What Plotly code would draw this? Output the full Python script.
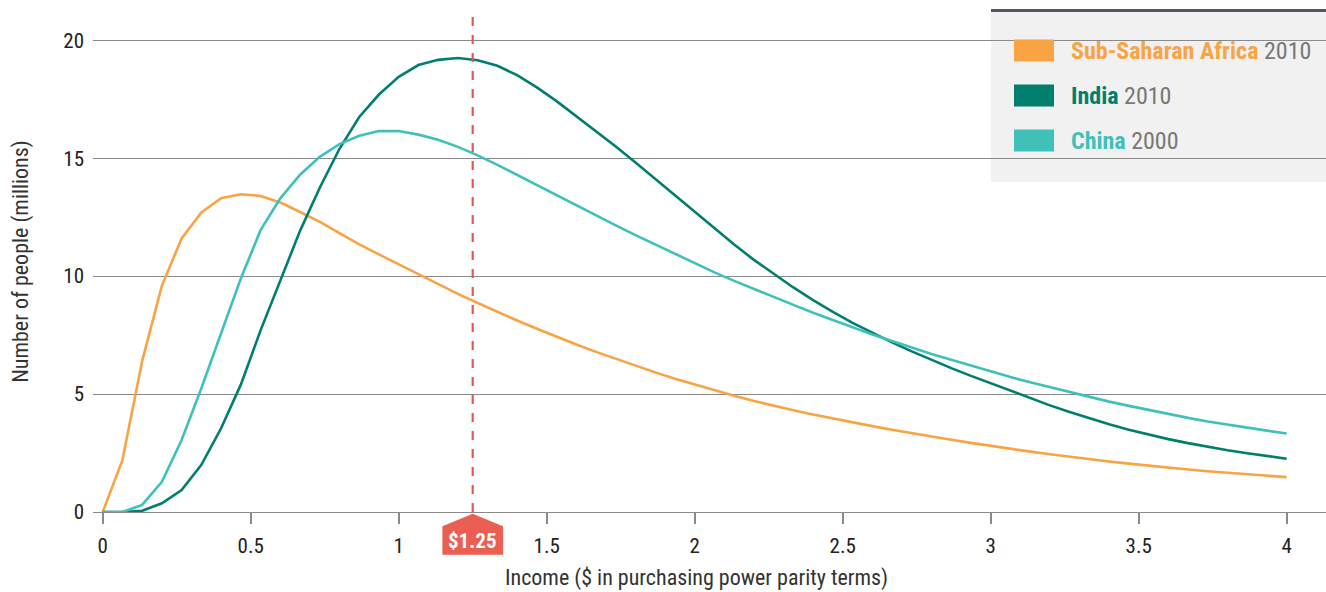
import plotly.graph_objects as go

# ---------------- data ----------------
income = [round(k / 15, 4) for k in range(61)]  # $ per day, PPP

ssa_2010 = [0, 2.2, 6.4, 9.6, 11.6, 12.7, 13.3, 13.47, 13.4, 13.12, 12.72, 12.3, 11.82, 11.35, 10.92,
            10.5, 10.07, 9.65, 9.25, 8.86, 8.48, 8.12, 7.77, 7.43, 7.1, 6.79, 6.49, 6.2, 5.92, 5.65,
            5.4, 5.16, 4.93, 4.71, 4.5, 4.31, 4.13, 3.96, 3.8, 3.64, 3.49, 3.34, 3.2, 3.06, 2.93,
            2.8, 2.68, 2.56, 2.45, 2.34, 2.24, 2.14, 2.05, 1.96, 1.88, 1.8, 1.73, 1.66, 1.6, 1.54, 1.48]

india_2010 = [0, 0, 0.05, 0.37, 0.93, 2.0, 3.55, 5.4, 7.7, 9.85, 11.92, 13.75, 15.4, 16.75, 17.7,
              18.45, 18.95, 19.17, 19.25, 19.15, 18.92, 18.52, 18.0, 17.42, 16.78, 16.16, 15.5, 14.82, 14.12, 13.42,
              12.72, 12.02, 11.34, 10.69, 10.09, 9.52, 8.98, 8.48, 8.02, 7.59, 7.19, 6.81, 6.45, 6.1, 5.77,
              5.45, 5.14, 4.84, 4.52, 4.24, 3.97, 3.72, 3.49, 3.28, 3.09, 2.92, 2.76, 2.62, 2.49, 2.37, 2.26]

china_2000 = [0, 0, 0.3, 1.28, 3.05, 5.25, 7.58, 9.9, 11.95, 13.3, 14.3, 15.06, 15.6, 15.95, 16.15,
              16.15, 16.0, 15.78, 15.48, 15.12, 14.72, 14.29, 13.85, 13.41, 12.98, 12.56, 12.15, 11.74, 11.34, 10.94,
              10.55, 10.16, 9.8, 9.45, 9.12, 8.78, 8.45, 8.14, 7.84, 7.53, 7.25, 6.97, 6.7, 6.46, 6.21,
              5.96, 5.72, 5.5, 5.29, 5.08, 4.88, 4.68, 4.5, 4.32, 4.15, 3.99, 3.84, 3.7, 3.57, 3.45, 3.33]

series_names = ["Sub-Saharan Africa", "India", "China"]
series_years = ["2010", "2010", "2000"]
series_colors = ["#F9A342", "#007E6E", "#3FC1BA"]

poverty_line = 1.25
poverty_label = "$1.25"

x_ticks = [0, 0.5, 1, 1.5, 2, 2.5, 3, 3.5, 4]
x_ticklabels = ["0", "0.5", "1", "1.5", "2", "2.5", "3", "3.5", "4"]
y_ticks = [0, 5, 10, 15, 20]

x_title = "Income ($ in purchasing power parity terms)"
y_title = "Number of people (millions)"

FONT = "Liberation Sans Narrow, Roboto Condensed, Arial Narrow, Roboto, sans-serif"
RED = "#E8574E"
GRID = "#8A8A8A"

# ---------------- geometry (layout only) ----------------
W, H = 1326, 592
PLOT_LEFT, PLOT_TOP, PLOT_BOTTOM = 93, 10, 512.3   # page pixels
L = PLOT_LEFT
T = PLOT_TOP
B = H - PLOT_BOTTOM
R = 0
plot_w = W - L - R
plot_h = H - T - B


def px(xp):
    return (xp - PLOT_LEFT) / plot_w


def py(yp):
    return (PLOT_BOTTOM - yp) / plot_h


fig = go.Figure()
for name, vals, col in zip(series_names, [ssa_2010, india_2010, china_2000], series_colors):
    fig.add_trace(go.Scatter(x=income, y=vals, mode="lines", name=name,
                             line=dict(color=col, width=2.6), showlegend=False,
                             hoverinfo="x+y+name"))

# poverty line
fig.add_shape(type="line", xref="x", yref="paper", x0=poverty_line, x1=poverty_line,
              y0=0, y1=1, line=dict(color=RED, width=2.2, dash="dash"), layer="above")

# $1.25 house-shaped marker below the axis
hw = 0.1024
yt, ys, yb = py(514), py(526.5), py(555)
fig.add_shape(type="path", xref="x", yref="paper",
              path=(f"M {poverty_line},{yt} L {poverty_line + hw},{ys} L {poverty_line + hw},{yb} "
                    f"L {poverty_line - hw},{yb} L {poverty_line - hw},{ys} Z"),
              fillcolor="#EA5F51", line=dict(width=0), layer="above")
fig.add_annotation(x=poverty_line, xref="x", y=py(541), yref="paper", text=f"<b>{poverty_label}</b>",
                   showarrow=False, font=dict(family=FONT, size=21, color="white"),
                   xanchor="center", yanchor="middle")

# legend box
fig.add_shape(type="rect", xref="paper", yref="paper", x0=px(991), x1=1.0, y0=py(182), y1=py(11),
              fillcolor="#F1F1F1", line=dict(width=0), layer="below")
fig.add_shape(type="line", xref="paper", yref="paper", x0=px(991), x1=1.0, y0=py(10.5), y1=py(10.5),
              line=dict(color="#505560", width=3))
for i, (name, yr, col) in enumerate(zip(series_names, series_years, series_colors)):
    cy = 50.5 + 45 * i
    fig.add_shape(type="rect", xref="paper", yref="paper", x0=px(1014), x1=px(1054),
                  y0=py(cy + 11), y1=py(cy - 11), fillcolor=col, line=dict(width=0))
    fig.add_annotation(xref="paper", yref="paper", x=px(1069), y=py(cy + 1), xanchor="left",
                       yanchor="middle", showarrow=False,
                       text=f"<b>{name}</b> <span style='color:#777777'>{yr}</span>",
                       font=dict(family=FONT, size=24, color=col))

# axis titles
fig.add_annotation(xref="paper", yref="paper", x=px(696), y=py(578), text=x_title, showarrow=False,
                   font=dict(family=FONT, size=22, color="#333333"), xanchor="center", yanchor="middle")
fig.add_annotation(xref="paper", yref="paper", x=px(21), y=py(262), text=y_title, showarrow=False,
                   textangle=-90, font=dict(family=FONT, size=22, color="#333333"),
                   xanchor="center", yanchor="middle")

x0_px = 102.7   # page pixel of income 0
ppu = 296.0     # pixels per $ unit
fig.update_layout(
    width=W, height=H,
    margin=dict(l=L, r=R, t=T, b=B, pad=0),
    paper_bgcolor="white", plot_bgcolor="white",
    font=dict(family=FONT, size=20, color="#222222"),
    xaxis=dict(range=[(PLOT_LEFT - x0_px) / ppu, (PLOT_LEFT + plot_w - x0_px) / ppu], tickvals=x_ticks,
               ticktext=x_ticklabels, ticks="outside", ticklen=11, tickcolor=GRID, tickwidth=1.5,
               showgrid=False, zeroline=False, showline=False, ticklabelstandoff=4,
               tickfont=dict(family=FONT, size=21, color="#222222")),
    yaxis=dict(range=[0, plot_h / 23.6], tickvals=y_ticks, showgrid=True, gridcolor=GRID,
               gridwidth=1.2, zeroline=True, zerolinecolor=GRID, zerolinewidth=1.2, showline=False,
               ticks="", ticklabelstandoff=8,
               tickfont=dict(family=FONT, size=21, color="#222222")),
    showlegend=False,
)

# remove the browser's default 8px body margin so the figure fills the window exactly
fig.write_html("out.html", config={"displayModeBar": False},
               post_script="document.body.style.margin='0';document.body.style.overflow='hidden';")
